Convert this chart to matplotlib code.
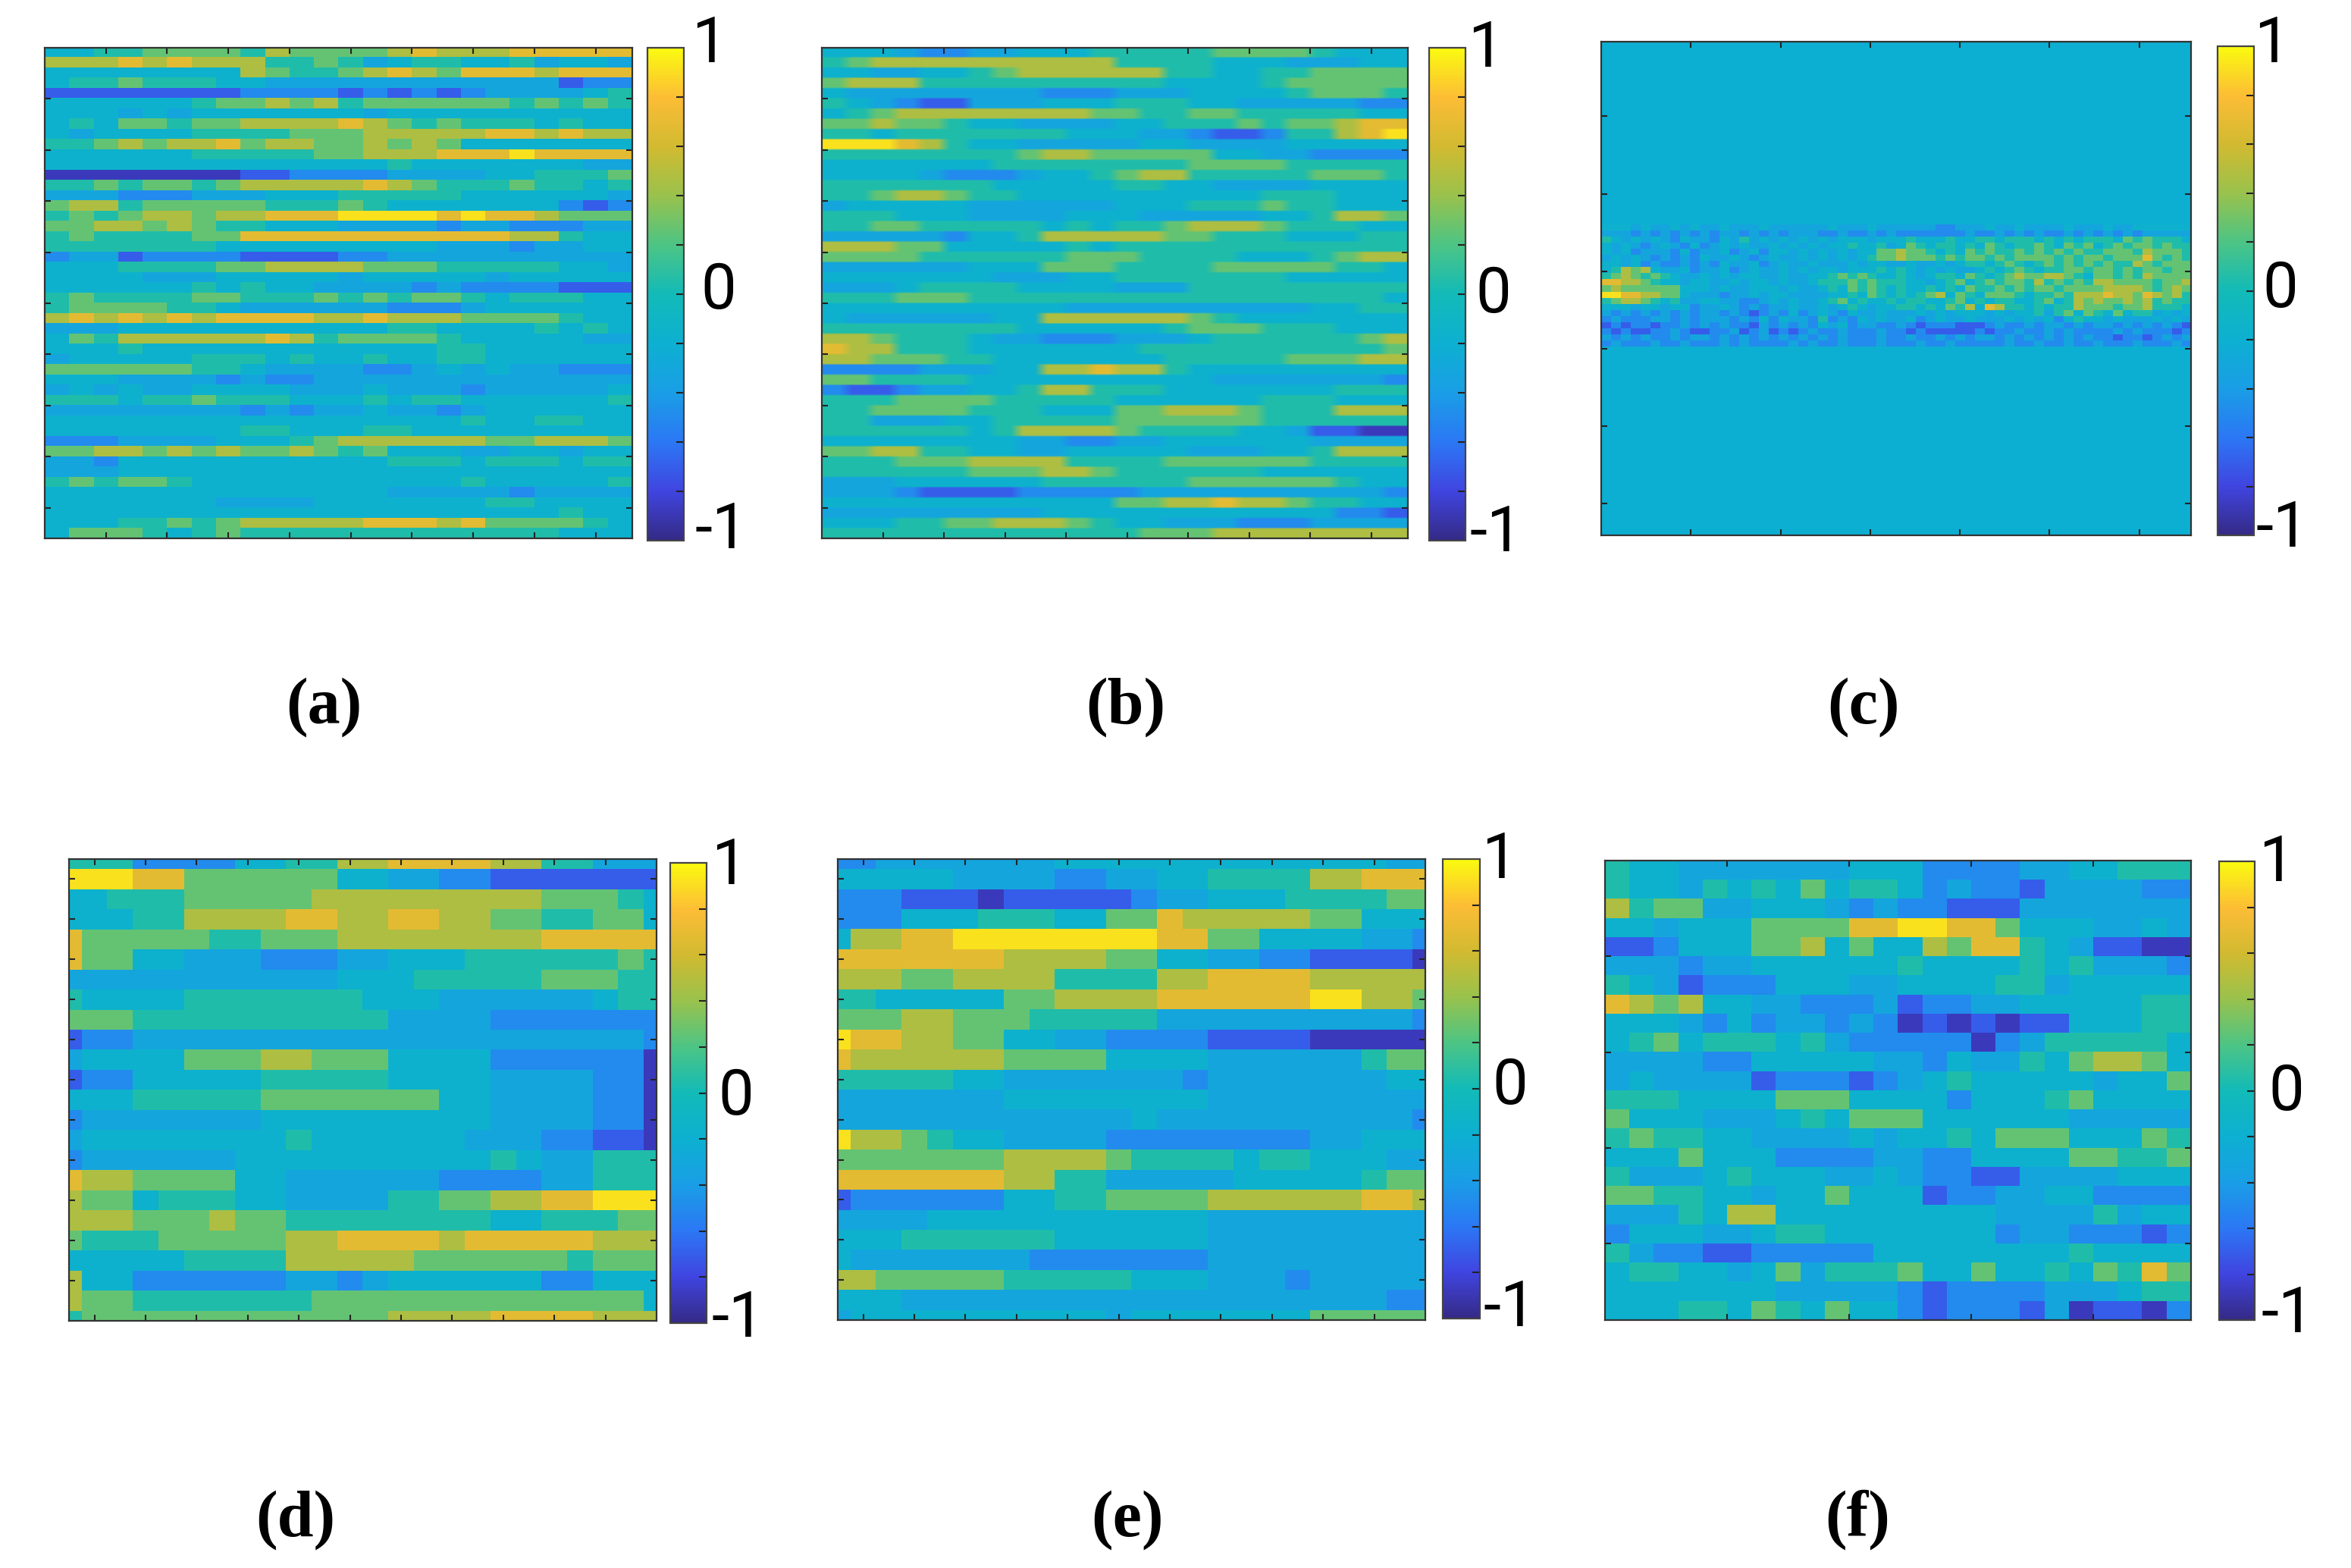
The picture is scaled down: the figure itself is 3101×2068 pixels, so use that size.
import numpy as np
import matplotlib
matplotlib.use("Agg")
import matplotlib.pyplot as plt
from matplotlib.colors import LinearSegmentedColormap

# levels 0..9, level_values turns them into -1..1
level_values = [-0.88, -0.70, -0.50, -0.32, -0.17, 0.05, 0.26, 0.47, 0.68, 0.92]
a_rows = [
    "445566 665766 667877 788888", "777878 777556 534554 453443", "444444 447655 678768 887888",
    "455655 544333 333333 333122", "111111 112222 121212 333345", "444444 566767 566666 656565",
    "444343 444444 434444 444444", "454665 667777 876565 554544", "434444 555566 677777 887877",
    "556767 786776 676764 444444", "444444 555556 677788 898888", "444444 444444 445444 444433",
    "000000 001122 223333 445556", "556566 567777 787655 565545", "333222 333444 555554 444443",
    "677566 666555 654444 444212", "565677 677888 999989 887666", "667767 655444 333323 322233",
    "565555 668888 888888 877544", "555555 544444 444433 323344", "233122 221111 223333 333333",
    "444555 566777 766655 555443", "444433 344444 344444 344444", "444444 545443 333232 222111",
    "565555 665556 565665 455544", "566665 543333 332223 444444", "787878 788887 787776 666544",
    "333444 444444 445544 445454", "465777 777875 666654 444433", "444544 444444 444455 444444",
    "344444 555454 454455 444444", "666666 554333 322343 433222", "444333 323223 333333 333333",
    "343433 444433 343332 333334", "555455 655544 454554 444445", "333333 332323 343323 444444",
    "444444 444444 444445 445544", "444444 445544 455444 444444", "222333 344456 777777 667776",
    "667767 676676 564443 344344", "332444 444444 445554 555455", "333444 444444 444444 444444",
    "565665 444444 444445 444445", "444444 444444 443333 323333", "444444 433334 444444 554444",
    "444444 444444 444444 444544", "444556 567777 788878 666654", "466654 565555 555555 555444",
]
b_rows = [
    "444322 334445 555566 665444", "567777 777777 555544 433344", "443344 567777 775544 556666",
    "677755 555555 554444 566666", "433333 333222 333444 456665", "543211 333444 555443 333322",
    "456777 777776 655665 555544", "667665 443333 445556 566788", "554555 555544 433211 255789",
    "999875 443333 344333 344444", "555555 556776 666644 332222", "444444 455555 555666 655555",
    "444432 223445 677555 556665", "555555 544444 554433 334444", "556776 554444 444444 555444",
    "344444 333333 444555 655444", "555444 333344 433333 445776", "556655 555454 556777 655544",
    "333332 445777 776655 544455", "777664 444454 555555 555555", "666655 555566 655554 445677",
    "333333 444666 555566 666554", "444444 433344 555555 544444", "333455 554444 333555 555555",
    "555666 555555 555555 555554", "444444 444433 333333 334455", "433333 344777 777654 444444",
    "555555 554444 445666 555444", "776555 433222 333455 555567", "877555 444444 455555 555556",
    "776665 544444 445555 566677", "222233 344778 775444 444444", "665555 444444 444433 333332",
    "211233 445775 554444 444555", "555666 655555 444444 555444", "556666 555444 667776 555777",
    "553334 455555 666666 555555", "555555 457777 655554 431100", "444444 443322 334444 443333",
    "667755 443344 444333 445777", "555666 777755 556666 665555", "555555 666776 555555 444444",
    "333444 444555 555666 666544", "333211 112222 233333 333332", "444444 444444 667787 765544",
    "333333 333444 444444 444221", "444556 677765 443332 223333", "555555 555555 566677 777777",
]
c_band = [
    "4443433434 3343334333 3334333433 3333223334 3343333433 3433444444",
    "3332323232 3233232323 3322322323 2222222322 3232322323 2323233333",
    "5434343243 3243534343 4343444344 4544454455 4555454545 5546565554",
    "4343234324 2343433434 3434454453 4654554546 5455654656 4565665655",
    "4342333242 3342342443 4343434466 7665454656 5565656565 5666576665",
    "3434323232 4334323433 4343434566 7666565665 6566665656 6566686565",
    "4434232232 3243342343 3433343443 3433434554 5654565656 5655765666",
    "4576743342 3342343343 4344344454 5434343345 4565455665 6656566566",
    "5676565433 4343443343 3445656544 5434554654 5676677654 6656576666",
    "8877654434 4334344343 3455565655 5443456456 5665756565 7766665667",
    "6766666644 4343344434 3345465654 5445454655 6565665666 6777765676",
    "9988776643 3323343443 3334454654 5456746546 6654556577 7877687675",
    "5677654533 4433223434 3345645445 4554456454 5544564576 7667675655",
    "4443443442 3343232334 3343454344 5545465748 7554545576 6656675554",
    "3232323232 3323212324 2343243343 3343434443 4344535646 5464553434",
    "2322233232 3332324243 3252324343 3423433433 3434342454 4343334343",
    "1212212232 3232213232 3243423322 3212221112 3223233232 3323232321",
    "2121122321 1223123121 2322322232 2121111121 2232232322 2232322212",
    "3232322323 3232323232 3232322232 2322323233 2323232323 2212212323",
    "2322232232 2232322223 2322322232 2232232222 2322322322 3222322232",
]
c_background = -0.2
d_rows = [
    "555222 244557 788887 755333", "999886 666664 433221 111111", "445556 666677 777777 766654",
    "444557 777887 788776 655664", "866666 556667 777777 788888", "866443 332223 344455 555565",
    "333333 333334 445555 566655", "544445 555555 444333 333455", "666555 555555 533332 222222",
    "122333 333333 333333 333332", "344446 667766 644442 222220", "122444 445555 544443 333220",
    "444555 556666 666443 333220", "233333 334444 444443 333220", "344444 444544 444433 322110",
    "233333 344444 444445 433555", "877666 644333 333222 233555", "766455 544333 355667 788999",
    "777666 766555 555554 455566", "655566 666778 888788 888777", "444445 555777 776666 665666",
    "744222 222332 344444 422444", "766555 555566 666666 666664", "566666 666666 677778 888777",
]
e_rows = [
    "223333 333444 444444 444433", "444443 333223 344555 577888", "222111 011111 233444 555566",
    "222444 555446 687777 766444", "477889 999999 988664 444332", "888888 877776 644332 211110",
    "777667 777555 577888 877777", "554444 466777 788888 899776", "666776 665555 533333 333332",
    "988776 644332 222111 100000", "877777 766664 444333 333566", "555554 433333 332333 333344",
    "333333 344444 444333 333333", "333333 333333 433333 333332", "977654 433332 222222 233444",
    "666666 677776 555545 544433", "888888 877553 333344 444566", "122222 244556 666777 777887",
    "333344 444444 444333 333333", "444555 555444 444333 333333", "433333 332222 222333 333333",
    "776666 655555 444333 233333", "444333 333333 333333 333322", "344444 444443 444444 466666",
]
f_rows = [
    "544333 333344 422223 344555", "544354 546455 423221 333322", "756633 444323 221113 333333",
    "443444 666688 998864 443343", "112444 667464 476885 431100", "333233 444444 544445 453332",
    "543122 244433 444455 344444", "876744 332223 122334 444455", "444324 233232 010101 144455",
    "456455 545322 222023 555554", "333322 444443 324335 467764", "343333 122212 345444 443446",
    "555444 466644 442444 564444", "644433 345466 644444 433333", "565544 333343 445466 644465",
    "444644 422223 322444 466556", "533345 444334 322113 333444", "665544 344644 412233 442222",
    "333547 744444 444433 335344", "244433 455444 444423 322212", "532211 222224 444444 454444",
    "455443 463555 644644 546586", "444444 433333 212222 333455", "444554 654644 212221 301102",
]
panel_labels = ["(a)", "(b)", "(c)", "(d)", "(e)", "(f)"]
cbar_labels = ["1", "0", "-1"]
cbar_ticks = [-0.8, -0.6, -0.4, -0.2, 0, 0.2, 0.4, 0.6, 0.8]

W, H = 3101, 2068
parula = LinearSegmentedColormap.from_list("parula", [
    (0.208, 0.166, 0.529), (0.25, 0.27, 0.88), (0.17, 0.47, 0.96), (0.10, 0.62, 0.90),
    (0.05, 0.69, 0.82), (0.07, 0.73, 0.72), (0.30, 0.77, 0.52), (0.60, 0.76, 0.30),
    (0.82, 0.73, 0.19), (0.99, 0.74, 0.21), (0.98, 0.98, 0.06)])


def decode(rows, repeat=1):
    lv = np.array(level_values)
    m = lv[[[int(ch) for ch in r.replace(" ", "")] for r in rows]]
    return np.repeat(m, repeat, axis=1)


fig = plt.figure(figsize=(W / 100, H / 100), dpi=100, facecolor="white")


def px_axes(box):
    x0, y0, x1, y1 = box
    return fig.add_axes([x0 / W, 1 - y1 / H, (x1 - x0) / W, (y1 - y0) / H])


def px_text(x, y, s, **kw):
    fig.text(x / 1568, 1 - y / 1046, s, ha="center", va="center", **kw)


def heat(m, box, cbox, xticks, yticks, crop=False, interp="nearest", extent=None):
    ax = px_axes(box)
    im = ax.imshow(m, cmap=parula, vmin=-1, vmax=1, aspect="auto", interpolation=interp, extent=extent)
    if crop:
        ax.set_xlim(0, m.shape[1] - 1)
        ax.set_ylim(m.shape[0] - 1, 0)
    ax.set_xticks(xticks)
    ax.set_yticks(yticks)
    ax.tick_params(direction="in", length=6, width=1.5, top=True, right=True,
                   labelbottom=False, labelleft=False, color="#222222")
    for s in ax.spines.values():
        s.set_linewidth(1.6)
        s.set_color("#333333")
    cax = px_axes(cbox)
    cb = fig.colorbar(im, cax=cax)
    cb.set_ticks(cbar_ticks)
    cax.tick_params(direction="in", length=7, width=1.5, labelright=False, color="#222222")
    cb.outline.set_linewidth(1.6)
    cb.outline.set_edgecolor("#444444")


five = np.arange(4.5, 47, 5)
a = decode(a_rows, 2)
# rows repeated so the smoothing of panel b stays along the rows
b = np.repeat(decode(b_rows, 2), 6, axis=0)
band = decode(c_band)
c = np.vstack([np.full((30, band.shape[1]), c_background), band,
               np.full((31, band.shape[1]), c_background)])
d = decode(d_rows)
e = decode(e_rows)
f = decode(f_rows)

heat(a, (59, 63, 834, 710), (854, 63, 902, 713), five, five)
heat(b, (1084, 63, 1857, 710), (1885, 63, 1933, 713), five, five, interp="bilinear",
     extent=[-0.5, 47.5, 47.5, -0.5])
heat(c, (2112, 55, 2890, 706), (2925, 61, 2973, 706), np.arange(0.152, 1, 0.152),
     np.arange(0.151, 1, 0.157), extent=[0, 1, 1, 0])
heat(d, (91, 1133, 866, 1742), (884, 1138, 932, 1745), np.arange(1, 23, 2), np.arange(1, 23, 2), crop=True)
heat(e, (1105, 1133, 1880, 1741), (1903, 1133, 1952, 1739), np.arange(1, 23, 2), np.arange(1, 23, 2), crop=True)
heat(f, (2117, 1135, 2890, 1741), (2927, 1136, 2974, 1741), np.arange(4.5, 23, 5), np.arange(4.5, 23, 5))

cbar_text_pos = [
    [(473, 30), (479, 194), (481, 354)],
    [(991, 33), (996, 197), (998, 356)],
    [(1515, 30), (1521, 193), (1522, 353)],
    [(486, 578), (491, 732), (492, 880)],
    [(1000, 574), (1007, 725), (1007, 873)],
    [(1518, 576), (1525, 729), (1526, 877)],
]
for pos in cbar_text_pos:
    for (x, y), s in zip(pos, cbar_labels):
        px_text(x, y, s, family="Roboto", fontsize=60, color="black")

label_pos = [(216, 472), (751, 472), (1243, 472), (197, 1014), (752, 1014), (1239, 1014)]
for (x, y), s in zip(label_pos, panel_labels):
    px_text(x, y, s, family="Liberation Serif", fontweight="bold", fontsize=62, color="black")

fig.savefig("out.png", dpi=100, facecolor="white")
